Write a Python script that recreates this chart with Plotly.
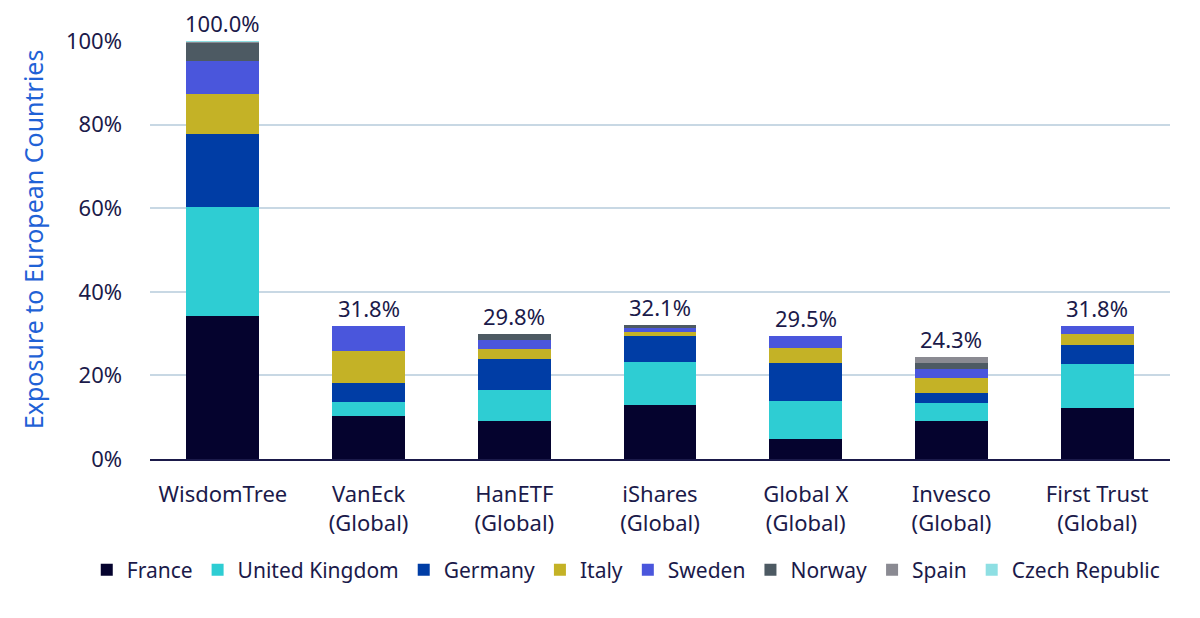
import plotly.graph_objects as go

categories = ["WisdomTree", "VanEck<br>(Global)", "HanETF<br>(Global)", "iShares<br>(Global)",
              "Global X<br>(Global)", "Invesco<br>(Global)", "First Trust<br>(Global)"]
france = [34.2, 10.2, 9.0, 13.0, 4.8, 9.0, 12.2]
united_kingdom = [26.0, 3.4, 7.5, 10.3, 9.1, 4.3, 10.6]
germany = [17.6, 4.5, 7.5, 6.1, 9.1, 2.5, 4.5]
italy = [9.5, 7.7, 2.2, 1.1, 3.5, 3.5, 2.6]
sweden = [7.9, 6.0, 2.3, 0.9, 3.0, 2.3, 1.9]
norway = [4.4, 0.0, 1.3, 0.7, 0.0, 1.4, 0.0]
spain = [0.2, 0.0, 0.0, 0.0, 0.0, 1.3, 0.0]
czech_republic = [0.2, 0.0, 0.0, 0.0, 0.0, 0.0, 0.0]
totals = [100.0, 31.8, 29.8, 32.1, 29.5, 24.3, 31.8]
y_ticks = [0, 20, 40, 60, 80, 100]
y_tick_labels = ["0%", "20%", "40%", "60%", "80%", "100%"]

series = [
    ("France", france, "#05032e"),
    ("United Kingdom", united_kingdom, "#2ecdd3"),
    ("Germany", germany, "#003da5"),
    ("Italy", italy, "#c4b226"),
    ("Sweden", sweden, "#4a56dc"),
    ("Norway", norway, "#4d5a63"),
    ("Spain", spain, "#8a8a92"),
    ("Czech Republic", czech_republic, "#8edfe3"),
]

FONT = "Noto Sans"
TXT = "#1b1a4a"

fig = go.Figure()
for name, vals, color in series:
    fig.add_trace(go.Bar(
        name=name, x=categories, y=vals, marker=dict(color=color, line=dict(width=0)),
        width=0.5,
    ))

for cat, tot in zip(categories, totals):
    fig.add_annotation(
        x=cat, y=tot, xref="x", yref="y", text=f"{tot:.1f}%", showarrow=False,
        yanchor="bottom", yshift=2, borderpad=0,
        font=dict(size=22, color=TXT, family=FONT),
    )

fig.add_annotation(
    text="Exposure to European Countries", textangle=-90, showarrow=False,
    xref="paper", yref="paper", x=-0.1147, y=0.526, xanchor="center", yanchor="middle",
    font=dict(size=25, color="#1f62d6", family=FONT),
)

fig.update_layout(
    barmode="stack",
    width=1200, height=618,
    margin=dict(l=142, r=38, t=33, b=167, autoexpand=False),
    plot_bgcolor="white", paper_bgcolor="white",
    font=dict(family=FONT, size=22, color=TXT),
    bargap=0.5,
    legend=dict(orientation="h", x=-0.062, xanchor="left", y=-0.2656, yanchor="middle",
                font=dict(size=21, color=TXT, family=FONT), traceorder="normal",
                itemwidth=30, tracegroupgap=0),
    xaxis=dict(showgrid=False, showline=True, linecolor="#1b1a4a", linewidth=2,
               tickfont=dict(size=22, color=TXT), ticks="", ticklabelstandoff=15),
    yaxis=dict(range=[0, 100], tickvals=y_ticks, ticktext=y_tick_labels,
               showgrid=True, gridcolor="#c8d8e4", gridwidth=1.5, zeroline=False,
               tickfont=dict(size=22, color=TXT), ticks="", ticklabelstandoff=27),
)

fig.write_html("out.html")
